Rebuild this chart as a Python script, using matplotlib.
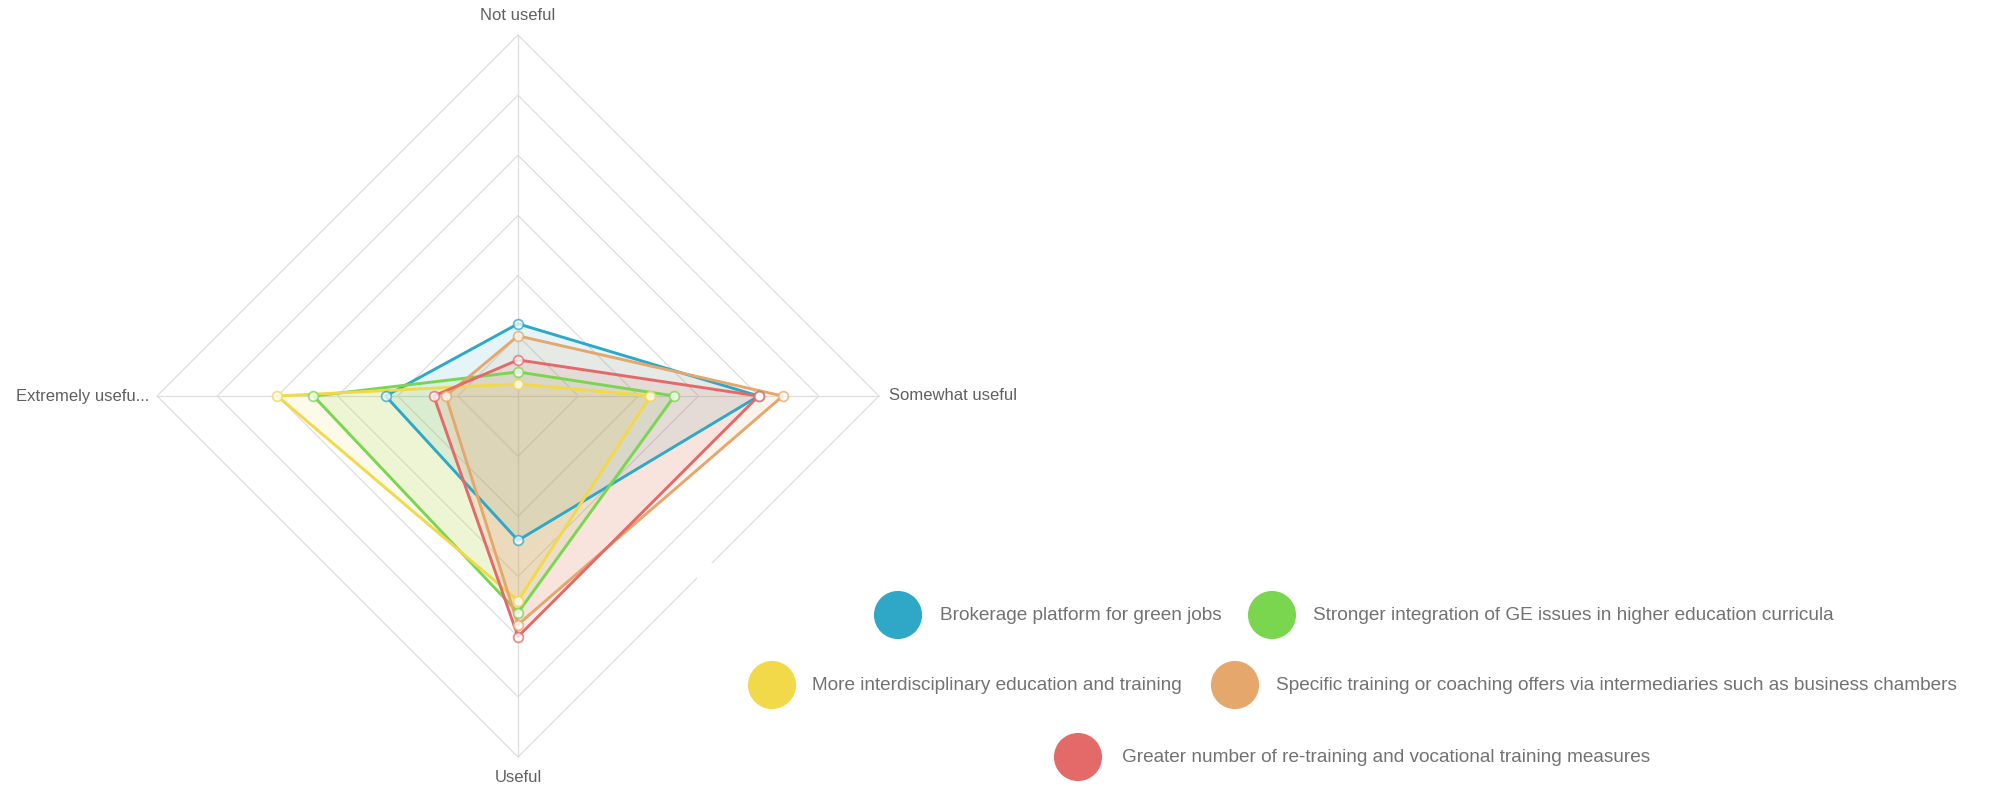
import matplotlib.pyplot as plt
import numpy as np
from matplotlib.patches import Rectangle

plt.rcParams['font.family'] = ['Liberation Sans', 'DejaVu Sans']

# radar axes, clockwise from the top
categories = ['Not useful', 'Somewhat useful', 'Useful', 'Extremely usefu...']
angles = np.deg2rad([90, 0, -90, 180])

series_names = [
    'Brokerage platform for green jobs',
    'Stronger integration of GE issues in higher education curricula',
    'More interdisciplinary education and training',
    'Specific training or coaching offers via intermediaries such as business chambers',
    'Greater number of re-training and vocational training measures',
]
brokerage = [12, 40, 24, 22]
integration = [4, 26, 36, 34]
interdisciplinary = [2, 22, 34, 40]
specific_training = [10, 44, 38, 12]
retraining = [6, 40, 40, 14]
colors = ['#2ea8c6', '#7ad64f', '#f2d94a', '#e6a76c', '#e46a6a']

rings = [10, 20, 30, 40, 50, 60]
r_max = 60

W, H = 1991, 786
fig = plt.figure(figsize=(W / 100, H / 100), dpi=100)

# chart centre and radius in pixels
cx, cy, R = 518, 396, 361
ax = fig.add_axes([(cx - R) / W, (H - cy - R) / H, 2 * R / W, 2 * R / H])
ax.set_xlim(-r_max, r_max)
ax.set_ylim(-r_max, r_max)
ax.axis('off')

grid_c = '#dedede'
for r in rings:
    gx = list(r * np.cos(angles)) + [r * np.cos(angles[0])]
    gy = list(r * np.sin(angles)) + [r * np.sin(angles[0])]
    ax.plot(gx, gy, color=grid_c, lw=0.9, zorder=1, clip_on=False)
for a in angles:
    ax.plot([0, r_max * np.cos(a)], [0, r_max * np.sin(a)], color=grid_c, lw=0.9, zorder=1, clip_on=False)

all_series = [brokerage, integration, interdisciplinary, specific_training, retraining]
for vals, col in zip(all_series, colors):
    v = np.array(vals + vals[:1], dtype=float)
    a = np.concatenate([angles, angles[:1]])
    x = v * np.cos(a)
    y = v * np.sin(a)
    ax.fill(x, y, color=col, alpha=0.12, lw=0, zorder=2)
    ax.plot(x, y, color=col, lw=2.1, zorder=3, clip_on=False)
    ax.plot(x[:-1], y[:-1], 'o', ms=7, mfc='white', mec=col, mew=1.3, alpha=0.75,
            zorder=4, clip_on=False)

lab_c = '#606060'
lab_fs = 12
ax.text(0, 63.2, categories[0], ha='center', va='center', fontsize=lab_fs, color=lab_c)
ax.text(61.7, 0, categories[1], ha='left', va='center', fontsize=lab_fs, color=lab_c)
ax.text(0, -63.4, categories[2], ha='center', va='center', fontsize=lab_fs, color=lab_c)
ax.text(-61.3, 0, categories[3], ha='right', va='center', fontsize=lab_fs, color=lab_c)

# legend layer (pixel coordinates)
lax = fig.add_axes([0, 0, 1, 1], zorder=2)
lax.set_xlim(0, W)
lax.set_ylim(H, 0)
lax.axis('off')
lax.patch.set_alpha(0)
lax.add_patch(Rectangle((697, 563), W - 697, H - 563, facecolor='white', edgecolor='none'))

leg_pos = [(898, 615, 940), (1272, 615, 1313), (772, 685, 812),
           (1235, 685, 1276), (1078, 757, 1122)]
for name, col, (mx, my, tx) in zip(series_names, colors, leg_pos):
    lax.scatter([mx], [my], s=1200, color=col, edgecolor='none', zorder=3)
    lax.text(tx, my, name, ha='left', va='center', fontsize=13.7, color='#727272', zorder=3)

fig.savefig('out.png', dpi=100)
